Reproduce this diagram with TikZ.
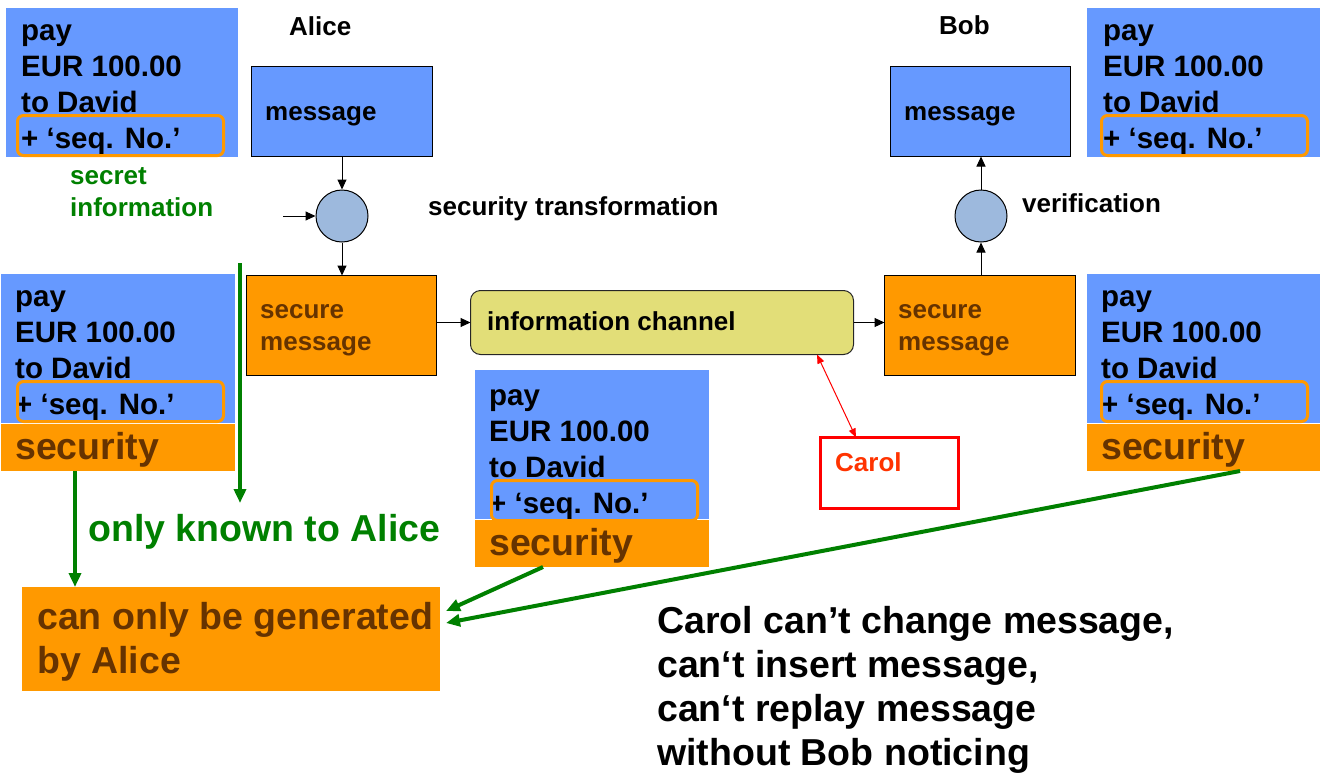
\documentclass[tikz,border=0pt]{standalone}
\usepackage{fontspec}
\setmainfont{Liberation Sans}
\usetikzlibrary{arrows.meta}
\definecolor{pblue}{RGB}{102,153,255}
\definecolor{porange}{RGB}{255,153,0}
\definecolor{pbrown}{RGB}{102,51,0}
\definecolor{pgreen}{RGB}{0,128,0}
\definecolor{pyellow}{RGB}{226,222,120}
\definecolor{pcirc}{RGB}{157,185,221}
\definecolor{pred}{RGB}{255,0,0}
\definecolor{pcarol}{RGB}{255,51,0}
\tikzset{
  lbl/.style={anchor=base west, inner sep=0pt, font=\fontsize{26}{31}\selectfont\bfseries},
  cardtxt/.style={anchor=base west, inner sep=0pt, font=\fontsize{29.5}{36}\selectfont\bfseries},
  sectxt/.style={anchor=base west, inner sep=0pt, text=pbrown, font=\fontsize{37.5}{44}\selectfont\bfseries},
  bigtxt/.style={anchor=base west, inner sep=0pt, font=\fontsize{37.5}{44}\selectfont\bfseries},
  area/.style={anchor=north west, inner sep=0pt, outer sep=0pt},
  blk/.style={-{Triangle[length=10pt,width=9pt]}, line width=1pt},
  grn/.style={draw=pgreen, line width=4pt, -{Triangle[length=14pt,width=12pt]}},
  redarr/.style={draw=pred, line width=1pt, {Triangle[length=9pt,width=7pt]}-{Triangle[length=9pt,width=7pt]}},
}
% #1 name, #2 box x, #3 box y, #4 box w, #5 text x, #6 first baseline, #7 orange x
\newcommand\paycard[7]{%
  \node[area, fill=pblue, minimum width=#4pt, minimum height=149pt] (#1) at (#2,#3) {};
  \node[cardtxt] (#1-a) at (#5,#6) {pay};
  \node[cardtxt] (#1-b) at (#5,#6+36) {EUR 100.00};
  \node[cardtxt] (#1-c) at (#5,#6+72) {to David};
  \node[cardtxt] (#1-d) at (#5,#6+108) {+ ‘seq. No.’};
  \node[area, draw=porange, line width=3pt, rounded corners=6pt, minimum width=206pt, minimum height=40pt] (#1-o) at (#7+1.5,#6+108-32.5) {};
}
% #1 name, #2 x, #3 y, #4 w, #5 text x
\newcommand\secbar[5]{%
  \node[area, fill=porange, minimum width=#4pt, minimum height=47pt] (#1) at (#2,#3) {};
  \node[sectxt] (#1-t) at (#5,#3+35) {security};
}
\begin{document}
\begin{tikzpicture}[x=1pt,y=-1pt]
\useasboundingbox (0,0) rectangle (1327,782);

% payment cards
\paycard{tl}{6}{8}{232}{21}{40}{16}
\paycard{tr}{1087}{8}{233}{1103}{40}{1100}
\paycard{lm}{1}{274}{234}{15}{306}{16}
\secbar{lms}{1}{424}{234}{15}
\paycard{mm}{475}{370}{234}{489}{405}{490}
\secbar{mms}{475}{520}{234}{489}
\paycard{rm}{1087}{274}{233}{1101}{306}{1100}
\secbar{rms}{1087}{424}{233}{1101}

% labels
\node[lbl] (alice) at (289,35) {Alice};
\node[lbl] (bob) at (939,34) {Bob};
\node[lbl, text=pgreen] (secret1) at (70,184) {secret};
\node[lbl, text=pgreen] (secret2) at (70,216) {information};
\node[lbl] (sectr) at (428,215) {security transformation};
\node[lbl] (verif) at (1022,212) {verification};

% Alice side
\node[area, draw, line width=1pt, fill=pblue, minimum width=181pt, minimum height=90pt] (msgA) at (251.5,66.5) {};
\node[lbl] (msgAt) at (265,120) {message};
\node[circle, draw, line width=1pt, fill=pcirc, minimum size=52pt, inner sep=0pt] (circA) at (342,216) {};
\node[area, draw, line width=1pt, fill=porange, minimum width=190pt, minimum height=100pt] (secA) at (246.5,275.5) {};
\node[lbl, text=pbrown] (secAt1) at (260,318) {secure};
\node[lbl, text=pbrown] (secAt2) at (260,350) {message};

% channel
\node[area, draw=black!85, line width=1pt, fill=pyellow, rounded corners=10pt, minimum width=383pt, minimum height=64pt] (chan) at (470.5,290.5) {};
\node[lbl] (chant) at (487,330) {information channel};

% Bob side
\node[area, draw, line width=1pt, fill=pblue, minimum width=180pt, minimum height=90pt] (msgB) at (890.5,66.5) {};
\node[lbl] (msgBt) at (904,120) {message};
\node[circle, draw, line width=1pt, fill=pcirc, minimum size=52pt, inner sep=0pt] (circB) at (981,216) {};
\node[area, draw, line width=1pt, fill=porange, minimum width=191pt, minimum height=100pt] (secB) at (884.5,275.5) {};
\node[lbl, text=pbrown] (secBt1) at (898,318) {secure};
\node[lbl, text=pbrown] (secBt2) at (898,350) {message};

% Carol
\node[area, draw=pred, line width=3pt, minimum width=138pt, minimum height=71pt] (carol) at (820.5,437.5) {};
\node[lbl, text=pcarol] (carolt) at (835,471) {Carol};

% result box
\node[area, fill=porange, minimum width=418pt, minimum height=104pt] (gen) at (22,587) {};
\node[sectxt] (gen1) at (37,629) {can only be generated};
\node[sectxt] (gen2) at (37,673) {by Alice};

% green text
\node[bigtxt, text=pgreen] (known) at (88,541) {only known to Alice};

% bottom right text
\node[bigtxt] (c1) at (657,633) {Carol can’t change message,};
\node[bigtxt] (c2) at (657,677) {can‘t insert message,};
\node[bigtxt] (c3) at (657,721) {can‘t replay message};
\node[bigtxt] (c4) at (657,765) {without Bob noticing};

% black connectors
\coordinate (inA) at (283,216);
\draw[blk] (msgA.south) -- (circA.north);
\draw[blk] (inA) -- (circA.west);
\draw[blk] (circA.south) -- (circA.south |- secA.north);
\draw[blk] (secA.east |- chan.west) -- (chan.west);
\draw[blk] (chan.east) -- (chan.east -| secB.west);
\draw[blk] (circB.south |- secB.north) -- (circB.south);
\draw[blk] (circB.north) -- (circB.north |- msgB.south);

% red connector
\draw[redarr] ([xshift=346.5pt]chan.south west) -- ([xshift=35.5pt]carol.north west);

% green connectors
\coordinate (v1) at (240,263);
\coordinate (v2) at (240,503);
\draw[grn] (v1) -- (v2);
\draw[grn] ([xshift=74pt]lms.south west) -- ([xshift=53pt]gen.north west);
\draw[grn] ([xshift=68pt]mms.south west) -- ([xshift=6pt,yshift=-24pt]gen.north east);
\draw[grn] ([xshift=153pt]rms.south west) -- ([xshift=6pt,yshift=-36pt]gen.north east);
\end{tikzpicture}
\end{document}
